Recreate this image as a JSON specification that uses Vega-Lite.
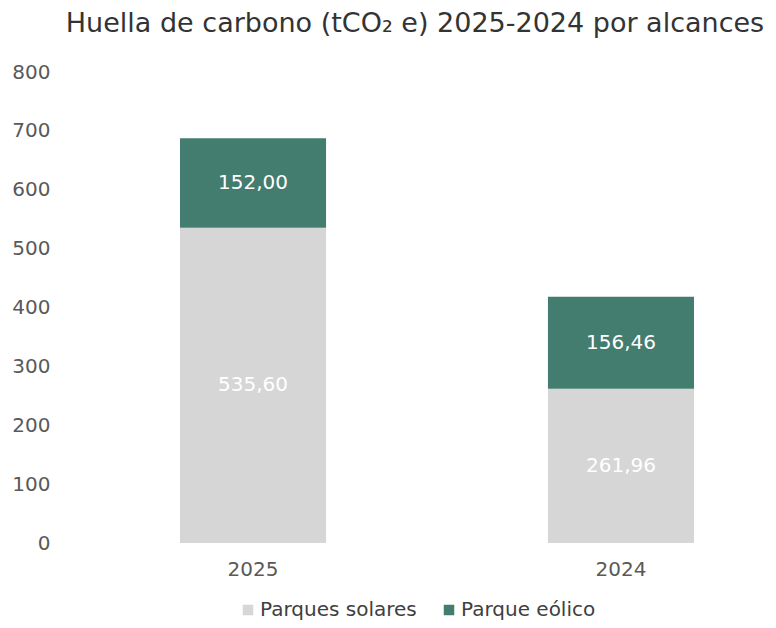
{
  "$schema": "https://vega.github.io/schema/vega-lite/v6.json",
  "autosize": "none",
  "width": 666,
  "height": 471,
  "padding": {"left": 104, "top": 72, "right": 6, "bottom": 85},
  "background": "white",
  "title": {
    "text": "Huella de carbono (tCO₂ e) 2025-2024 por alcances",
    "font": "DejaVu Sans",
    "fontSize": 27,
    "fontWeight": "normal",
    "color": "#333333",
    "anchor": "middle",
    "dx": -22,
    "offset": 24
  },
  "data": {
    "values": [
      {"anio": "2025", "fuente": "Parques solares", "valor": 535.60},
      {"anio": "2025", "fuente": "Parque eólico", "valor": 152.00},
      {"anio": "2024", "fuente": "Parques solares", "valor": 261.96},
      {"anio": "2024", "fuente": "Parque eólico", "valor": 156.46}
    ]
  },
  "transform": [
    {"calculate": "datum.fuente === 'Parques solares' ? 0 : 1", "as": "orden"},
    {"stack": "valor", "groupby": ["anio"], "sort": [{"field": "orden", "order": "ascending"}], "as": ["v0", "v1"]},
    {"calculate": "(datum.v0 + datum.v1) / 2", "as": "vmid"}
  ],
  "encoding": {
    "x": {
      "field": "anio",
      "type": "nominal",
      "sort": ["2025", "2024"],
      "scale": {"paddingInner": 0.603, "paddingOuter": 0.2065},
      "axis": {
        "title": null,
        "labelAngle": 0,
        "domain": false,
        "ticks": false,
        "labelPadding": 16,
        "labelFont": "DejaVu Sans",
        "labelFontSize": 20,
        "labelColor": "#595959"
      }
    }
  },
  "layer": [
    {
      "mark": {"type": "bar"},
      "encoding": {
        "y": {
          "field": "v0",
          "type": "quantitative",
          "scale": {"domain": [0, 800]},
          "axis": {
            "title": null,
            "values": [0, 100, 200, 300, 400, 500, 600, 700, 800],
            "grid": false,
            "domain": false,
            "ticks": false,
            "labelPadding": 54,
            "labelFont": "DejaVu Sans",
            "labelFontSize": 20,
            "labelColor": "#595959"
          }
        },
        "y2": {"field": "v1"},
        "color": {
          "field": "fuente",
          "type": "nominal",
          "scale": {"domain": ["Parques solares", "Parque eólico"], "range": ["#d6d6d6", "#437d6f"]},
          "legend": {
            "title": null,
            "orient": "none",
            "direction": "horizontal",
            "legendX": 134,
            "legendY": 528,
            "symbolType": "square",
            "symbolSize": 110,
            "symbolStrokeWidth": 0,
            "labelFont": "DejaVu Sans",
            "labelFontSize": 20,
            "labelColor": "#404040",
            "labelOffset": 2,
            "columnPadding": 22
          }
        }
      }
    },
    {
      "mark": {"type": "text", "color": "white", "font": "DejaVu Sans", "fontSize": 20, "baseline": "middle"},
      "encoding": {
        "y": {"field": "vmid", "type": "quantitative"},
        "text": {"field": "valor", "type": "quantitative", "format": ".2f"}
      }
    }
  ],
  "config": {
    "view": {"stroke": null},
    "locale": {"number": {"decimal": ",", "thousands": ".", "grouping": [3], "currency": ["", " €"]}}
  }
}
